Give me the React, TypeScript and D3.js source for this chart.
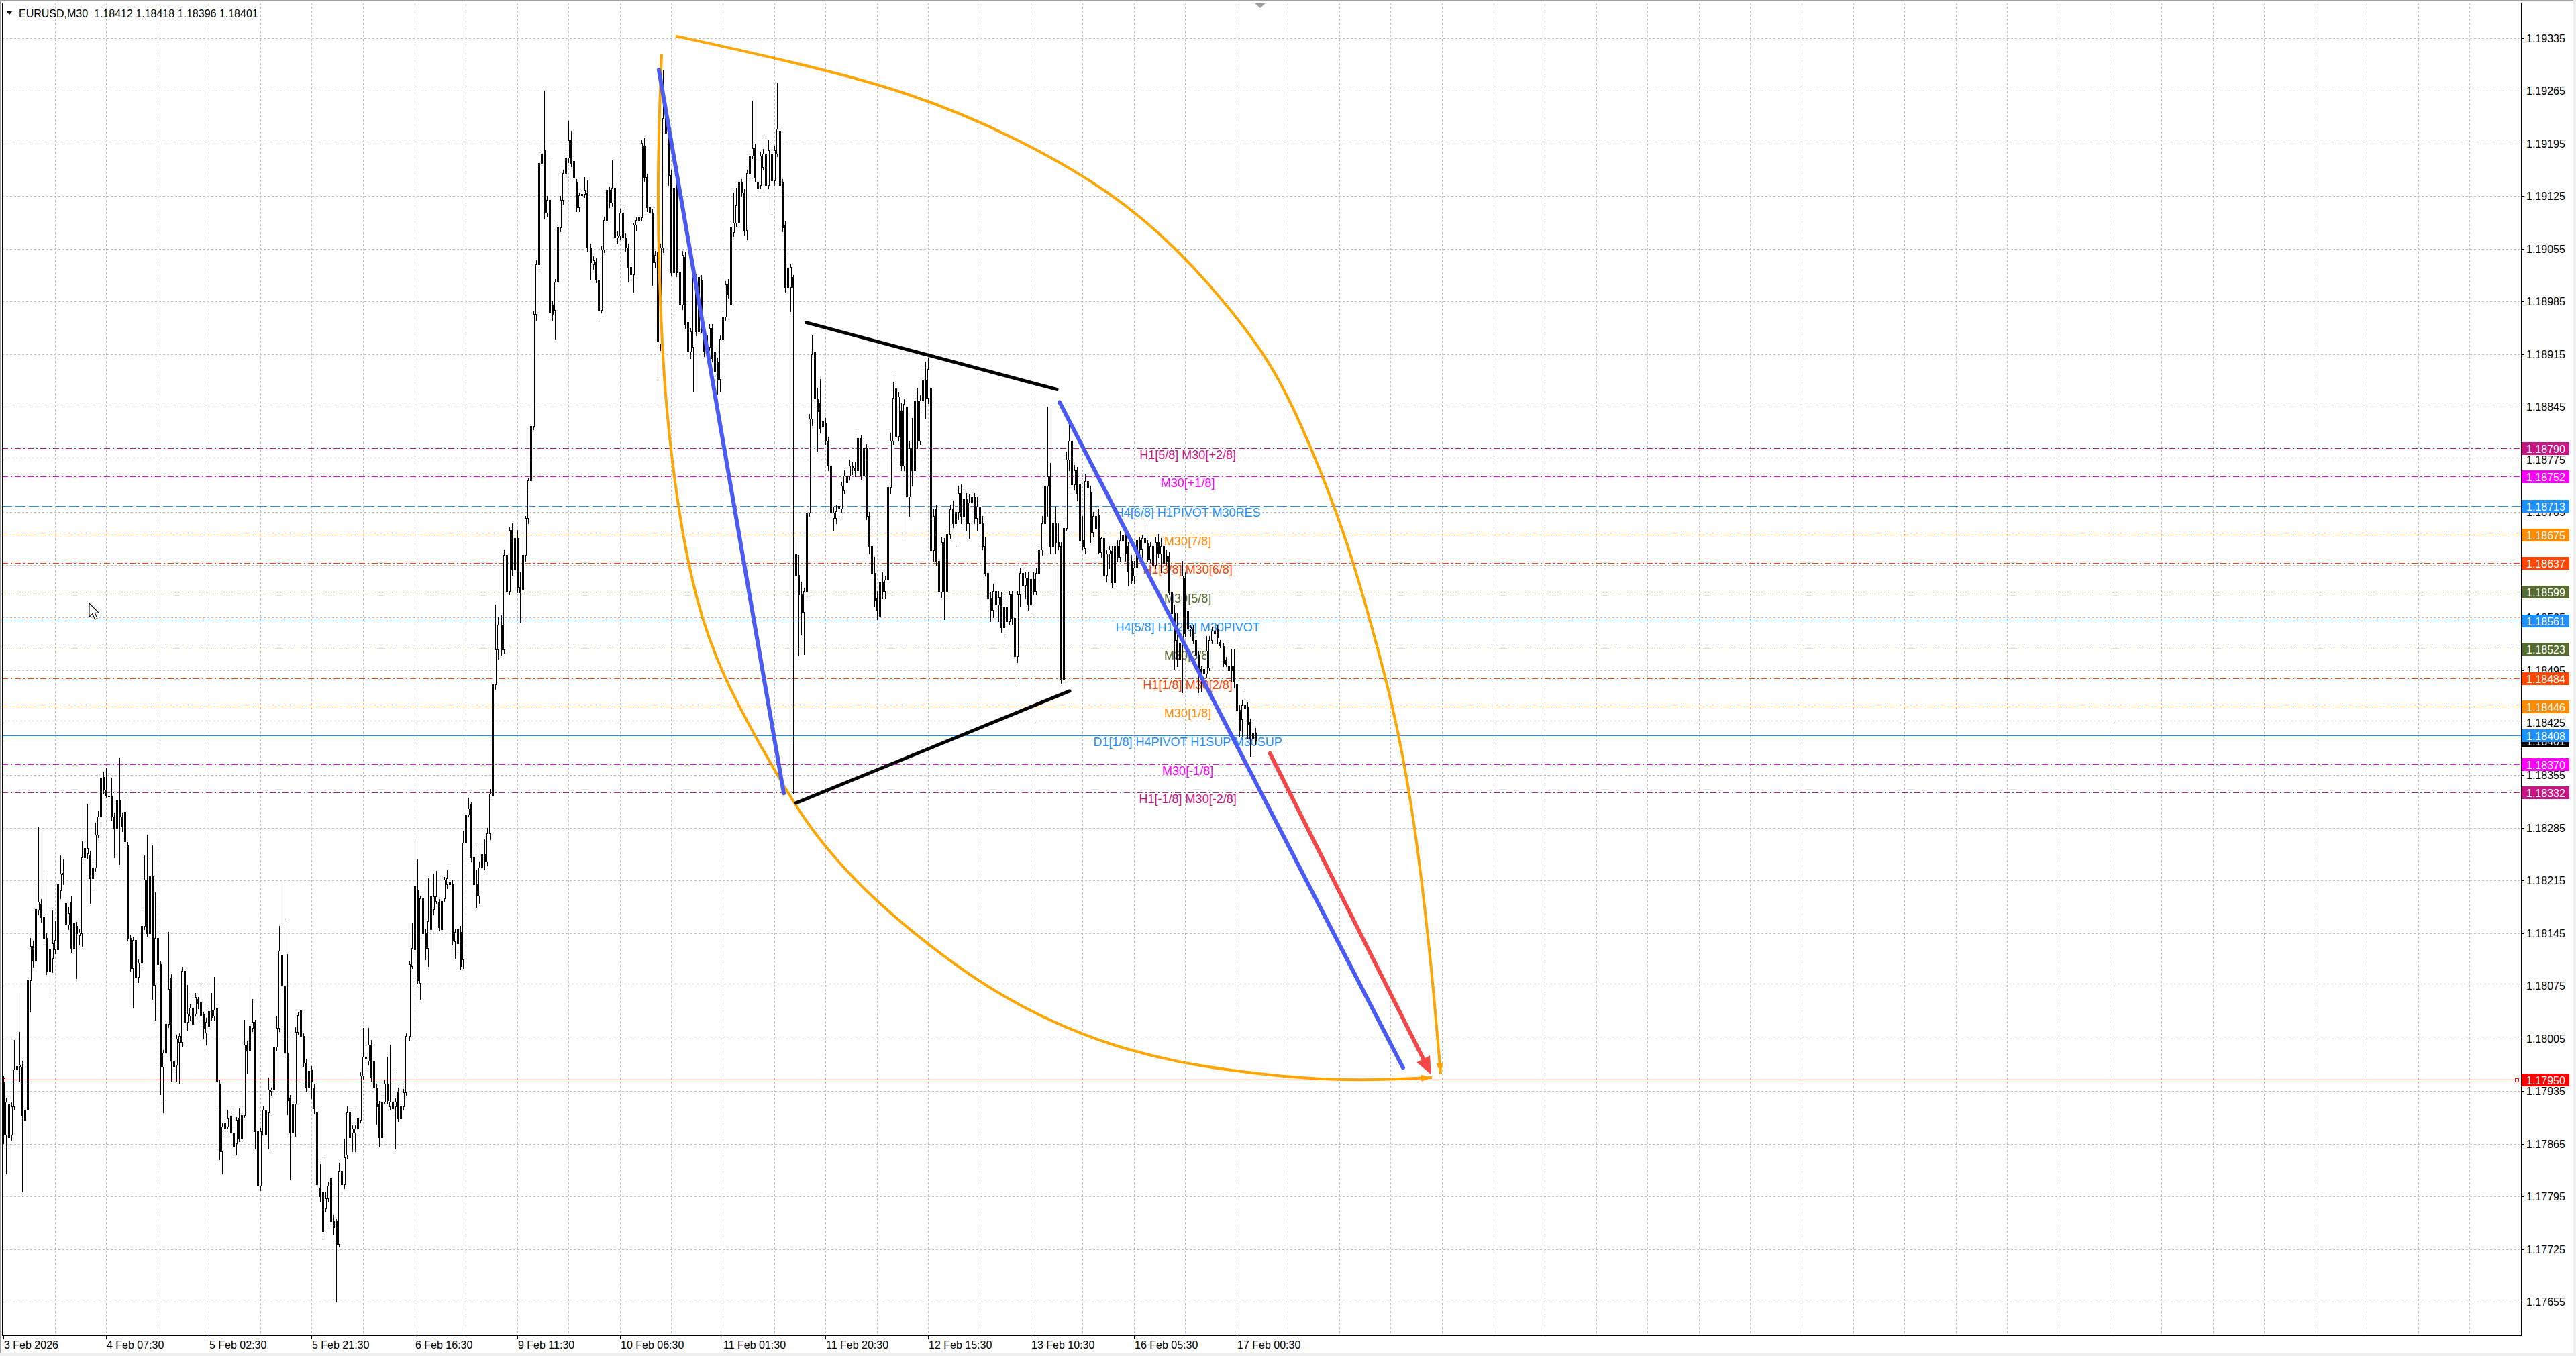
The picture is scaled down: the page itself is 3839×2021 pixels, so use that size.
import { useEffect, useRef } from 'react';
import * as d3 from 'd3';

type Bar = [number, number, number, number]; // open, high, low, close in points above BASE

const BASE = 1.17;

// EURUSD M30 candles, one array per trading day (3 Feb 12:30 .. 17 Feb 04:00)
const feb03: Bar[] = [
  [948,955,866,877],[877,925,825,921],[918,925,865,874],[877,920,870,915],[915,1003,910,964],[964,1065,950,968],
  [968,1014,948,970],[967,975,801,902],[896,915,890,910],[910,1095,860,1082],[1082,1139,1040,1128],[1128,1135,1100,1109],
  [1109,1213,1105,1177],[1176,1287,1170,1187],[1183,1190,1160,1166],[1166,1226,1135,1139],[1139,1145,1090,1095],[1123,1125,1063,1095],
  [1112,1175,1093,1131],[1123,1161,1118,1136],[1123,1215,1118,1210],[1202,1248,1191,1224],[1223,1243,1210,1225],
];
const feb04: Bar[] = [
  [1185,1190,1145,1156],[1156,1180,1150,1172],[1187,1194,1120,1125],[1125,1165,1118,1158],[1155,1160,1085,1145],[1142,1150,1130,1146],
  [1145,1267,1128,1246],[1246,1322,1240,1258],[1251,1317,1245,1258],[1248,1255,1185,1218],[1218,1238,1206,1232],[1232,1292,1228,1276],
  [1276,1308,1272,1300],[1300,1358,1293,1352],[1353,1360,1330,1336],[1336,1365,1325,1328],[1328,1335,1320,1327],[1328,1352,1296,1300],
  [1300,1305,1246,1284],[1284,1330,1280,1322],[1322,1379,1237,1300],[1300,1305,1280,1287],[1306,1329,1260,1267],[1262,1266,1135,1139],
  [1139,1143,1095,1098],[1098,1140,1046,1136],[1136,1140,1080,1087],[1087,1110,1080,1106],[1106,1178,1100,1155],[1155,1248,1150,1216],
  [1216,1276,1140,1145],[1145,1245,1140,1221],[1221,1262,1057,1076],[1076,1199,1030,1139],[1139,1145,1100,1104],[1104,1108,931,967],
  [967,990,907,986],[986,1028,923,1024],[1024,1147,1020,1071],[1086,1090,948,975],[975,980,960,967],[970,1010,948,1005],
  [1000,1012,945,1008],[1000,1100,995,1095],[1095,1100,1020,1027],[1027,1076,1016,1038],[1035,1050,1030,1046],[1046,1060,1020,1024],
];
const feb05: Bar[] = [
  [1038,1065,1035,1060],[1057,1060,1045,1052],[1054,1079,1030,1035],[1038,1040,1005,1019],[1013,1032,997,1027],[1022,1045,994,1041],
  [1043,1065,1030,1033],[1035,1087,1030,1043],[1046,1050,912,948],[945,950,844,855],[855,892,825,888],[885,898,880,893],
  [888,910,885,899],[902,910,876,880],[880,885,847,861],[866,900,850,896],[899,912,868,872],[872,915,868,903],
  [903,1030,900,997],[997,1002,959,989],[989,1087,959,1022],[1019,1057,1015,1027],[1027,1030,858,882],[882,885,805,809],
  [809,886,803,882],[877,915,877,910],[910,915,872,877],[907,953,858,937],[935,940,930,937],[937,1035,935,994],
  [994,1035,990,1019],[1019,1155,1015,1122],[1115,1215,1070,1076],[1074,1164,980,986],[986,1117,904,923],[926,930,817,880],
  [880,925,875,918],[918,1020,875,1014],[1014,1040,1010,1036],[1042,1043,1005,1008],[1008,1012,968,973],[973,978,935,940],
  [940,968,935,962],[964,968,925,948],[940,945,905,912],[907,910,805,811],[806,838,788,795],[800,845,740,749],
];
const feb06: Bar[] = [
  [779,800,775,792],[792,815,788,809],[819,823,758,762],[762,770,745,754],[762,765,655,732],[732,840,728,828],
  [828,832,800,811],[811,872,806,847],[850,915,845,907],[907,915,865,874],[880,890,855,885],[880,890,855,885],
  [885,910,880,899],[896,960,893,956],[956,1019,950,981],[978,1000,960,981],[975,1019,970,997],[997,1003,948,953],
  [975,980,935,940],[940,945,891,915],[918,922,861,874],[874,925,870,921],[921,950,918,945],[945,981,918,923],
  [915,997,910,921],[921,962,905,912],[915,925,858,921],[934,940,895,899],[915,920,888,899],[915,938,910,933],
  [933,1012,930,1008],[1008,1108,1003,1104],[1101,1158,1098,1125],[1123,1267,1120,1207],[1202,1243,1078,1082],[1079,1195,1057,1191],
  [1191,1195,1140,1145],[1145,1150,1110,1125],[1125,1218,1101,1161],[1150,1200,1123,1194],[1177,1224,1170,1194],[1188,1228,1185,1194],
  [1186,1190,1148,1153],[1150,1192,1142,1188],[1191,1220,1188,1216],[1210,1229,1205,1218],[1213,1232,1205,1210],[1210,1215,1130,1136],
];
const feb09: Bar[] = [
  [1134,1150,1112,1147],[1131,1155,1117,1150],[1147,1155,1097,1101],[1110,1281,1098,1265],[1265,1333,1260,1303],[1303,1325,1300,1311],
  [1317,1320,1240,1246],[1246,1260,1200,1210],[1210,1230,1180,1195],[1195,1240,1185,1232],[1232,1262,1220,1250],[1250,1270,1230,1240],
  [1240,1285,1235,1278],[1278,1337,1270,1330],[1328,1522,1320,1476],[1476,1582,1470,1522],[1522,1565,1510,1555],[1555,1568,1515,1522],
  [1522,1655,1518,1648],[1648,1665,1580,1600],[1600,1685,1595,1681],[1681,1690,1620,1628],[1628,1684,1620,1670],[1670,1681,1598,1605],
  [1605,1625,1559,1598],[1602,1650,1555,1648],[1648,1700,1640,1697],[1697,1750,1690,1747],[1747,1822,1734,1819],[1819,1972,1815,1968],
  [1968,2040,1960,2034],[2034,2186,2028,2169],[2169,2190,2160,2182],[2186,2265,2095,2103],[2103,2125,2098,2120],[2120,2176,1965,1971],
  [1981,1985,1960,1968],[1974,2015,1935,2011],[2011,2088,2005,2083],[2083,2125,2078,2120],[2120,2160,2115,2156],[2156,2180,2150,2176],
  [2176,2225,2170,2199],[2199,2212,2165,2169],[2172,2178,2145,2150],[2143,2148,2105,2110],[2110,2130,2105,2126],[2126,2132,2118,2128],
];
const feb10: Bar[] = [
  [2128,2150,2124,2133],[2130,2146,2052,2057],[2057,2062,2014,2037],[2034,2045,2028,2040],[2037,2042,2010,2014],[2014,2018,1965,1974],
  [1974,2058,1970,2054],[2054,2098,2050,2093],[2093,2143,2088,2133],[2133,2138,2110,2116],[2116,2173,2112,2136],[2136,2140,2065,2070],
  [2070,2078,2062,2073],[2073,2108,2068,2103],[2103,2108,2066,2070],[2070,2075,2052,2057],[2057,2062,2011,2031],[2031,2035,2015,2021],
  [2021,2090,1998,2087],[2087,2098,2080,2093],[2093,2150,2088,2097],[2097,2200,2092,2196],[2192,2202,2145,2150],[2150,2155,2105,2110],
  [2110,2115,2098,2103],[2103,2108,2007,2037],[2037,2052,2030,2047],[2050,2065,1882,1932],[1929,2062,1920,2057],[2057,2293,2050,2229],
  [2229,2235,2195,2209],[2209,2215,2140,2153],[2153,2160,2020,2024],[2024,2140,1968,2136],[2136,2142,2018,2024],[2024,2030,1975,1981],
  [1981,2052,1975,2047],[2044,2050,1950,1955],[1958,1962,1912,1918],[1918,1950,1909,1945],[1925,2022,1866,2017],[2017,2022,1940,1945],
  [1945,2022,1940,2017],[2014,2020,1944,1948],[1948,1952,1912,1918],[1940,1962,1920,1925],[1925,1955,1920,1950],[1950,1955,1905,1909],
];
const feb11: Bar[] = [
  [1918,1925,1888,1892],[1905,1910,1862,1882],[1882,1940,1866,1935],[1935,1970,1930,1965],[1965,2012,1960,2008],[2008,2015,1990,1995],
  [1981,2088,1976,2083],[2077,2130,2072,2090],[2090,2136,2085,2113],[2090,2148,2085,2143],[2143,2148,2125,2130],[2130,2135,2074,2080],
  [2080,2160,2067,2156],[2156,2183,2150,2179],[2179,2252,2175,2189],[2189,2195,2145,2150],[2143,2148,2130,2136],[2140,2184,2135,2179],
  [2164,2188,2160,2182],[2182,2202,2135,2140],[2140,2199,2135,2186],[2182,2188,2103,2146],[2146,2192,2140,2186],[2182,2275,2178,2215],
  [2212,2218,2135,2140],[2143,2148,2078,2083],[2087,2092,1998,2004],[2030,2047,2000,2004],[2004,2035,1972,2031],[2017,2020,1331,2004],
  [1650,1668,1522,1621],[1621,1648,1514,1595],[1595,1612,1542,1572],[1572,1604,1516,1600],[1600,1712,1590,1704],[1704,1835,1700,1829],
  [1829,1940,1820,1915],[1918,1938,1850,1856],[1856,1870,1786,1839],[1850,1882,1810,1816],[1826,1832,1812,1819],[1823,1830,1795,1800],
  [1800,1805,1760,1767],[1767,1772,1695,1704],[1697,1712,1680,1704],[1697,1715,1690,1706],[1710,1720,1700,1713],[1710,1745,1705,1740],
];
const feb12: Bar[] = [
  [1734,1760,1730,1753],[1744,1758,1735,1753],[1753,1775,1748,1767],[1767,1772,1755,1764],[1764,1772,1752,1760],[1760,1810,1755,1803],
  [1803,1808,1748,1753],[1753,1800,1750,1790],[1790,1795,1695,1700],[1700,1705,1650,1660],[1660,1680,1620,1624],[1624,1645,1580,1587],
  [1590,1600,1562,1575],[1566,1615,1555,1611],[1611,1625,1590,1600],[1600,1620,1590,1615],[1615,1745,1610,1738],[1738,1810,1730,1800],
  [1800,1878,1795,1857],[1869,1890,1800,1806],[1806,1865,1800,1859],[1840,1850,1760,1767],[1767,1855,1760,1849],[1845,1850,1669,1726],
  [1726,1800,1700,1790],[1790,1830,1740,1760],[1760,1860,1755,1852],[1852,1870,1790,1800],[1800,1860,1795,1853],[1853,1900,1840,1880],
  [1880,1905,1830,1857],[1857,1910,1850,1895],[1870,1905,1650,1654],[1654,1710,1640,1700],[1709,1715,1635,1640],[1640,1652,1595,1599],
  [1599,1672,1592,1665],[1665,1670,1562,1599],[1599,1680,1590,1676],[1676,1715,1670,1709],[1709,1720,1685,1690],[1690,1712,1660,1705],
  [1705,1740,1695,1730],[1730,1742,1690,1700],[1700,1735,1685,1722],[1722,1730,1680,1690],[1690,1728,1670,1718],[1718,1735,1700,1725],
];
const feb13: Bar[] = [
  [1725,1730,1690,1697],[1697,1725,1680,1712],[1712,1720,1680,1690],[1690,1700,1655,1660],[1660,1672,1620,1624],[1624,1640,1585,1590],
  [1590,1598,1560,1575],[1575,1610,1565,1600],[1600,1615,1575,1582],[1582,1600,1560,1592],[1592,1598,1545,1552],[1552,1585,1540,1578],
  [1578,1590,1550,1560],[1560,1600,1555,1595],[1595,1600,1555,1564],[1564,1570,1474,1513],[1513,1600,1505,1595],[1595,1630,1580,1624],
  [1624,1632,1600,1608],[1608,1625,1590,1618],[1618,1625,1575,1582],[1582,1622,1570,1616],[1616,1625,1595,1600],[1600,1630,1595,1624],
  [1624,1660,1612,1655],[1655,1700,1648,1690],[1690,1750,1680,1740],[1740,1845,1700,1752],[1752,1770,1650,1660],[1660,1700,1600,1690],
  [1690,1712,1650,1665],[1665,1690,1655,1660],[1660,1665,1478,1482],[1482,1700,1476,1684],[1684,1785,1680,1775],[1775,1830,1760,1800],
  [1800,1815,1735,1742],[1742,1768,1735,1760],[1760,1765,1720,1730],[1742,1750,1665,1668],[1668,1700,1655,1660],[1657,1755,1650,1746],
  [1746,1752,1728,1738],[1731,1740,1665,1678],[1678,1705,1672,1700],[1700,1705,1680,1684],[1702,1710,1650,1652],[1652,1672,1645,1670],
];
const feb16: Bar[] = [
  [1670,1675,1620,1621],[1621,1655,1612,1650],[1650,1660,1630,1655],[1653,1660,1605,1611],[1611,1665,1608,1660],[1660,1668,1640,1645],
  [1645,1680,1640,1668],[1668,1690,1650,1675],[1675,1682,1640,1650],[1660,1665,1607,1627],[1640,1648,1610,1614],[1620,1640,1610,1631],
  [1631,1670,1628,1668],[1668,1672,1650,1656],[1656,1675,1645,1670],[1670,1690,1660,1664],[1664,1668,1640,1643],[1643,1665,1638,1660],
  [1660,1668,1630,1635],[1635,1672,1630,1665],[1665,1676,1645,1650],[1650,1670,1625,1660],[1660,1678,1630,1637],[1647,1655,1635,1640],
  [1646,1652,1595,1598],[1598,1620,1560,1570],[1570,1582,1496,1535],[1535,1570,1500,1510],[1510,1545,1500,1530],[1530,1640,1465,1620],
  [1617,1625,1540,1544],[1573,1580,1515,1550],[1550,1555,1540,1552],[1550,1555,1530,1535],[1535,1540,1505,1515],[1515,1520,1465,1496],
  [1496,1500,1466,1490],[1496,1500,1485,1490],[1490,1540,1485,1520],[1498,1540,1495,1535],[1535,1553,1530,1547],[1544,1550,1535,1547],
  [1550,1555,1530,1538],[1532,1535,1525,1528],[1527,1530,1500,1504],[1508,1512,1500,1503],[1501,1532,1493,1495],[1501,1523,1480,1495],
];
const feb17: Bar[] = [
  [1501,1523,1471,1480],[1476,1480,1440,1441],[1442,1448,1407,1414],[1429,1455,1407,1448],[1448,1470,1413,1445],[1446,1452,1404,1423],
  [1426,1430,1380,1404],[1404,1423,1382,1412],[1412,1418,1396,1401],
];
const days = [feb03, feb04, feb05, feb06, feb09, feb10, feb11, feb12, feb13, feb16, feb17];

// time axis labels, one every 38 bars
const timeLabels = [
  '3 Feb 2026', '4 Feb 07:30', '5 Feb 02:30', '5 Feb 21:30', '6 Feb 16:30', '9 Feb 11:30', '10 Feb 06:30',
  '11 Feb 01:30', '11 Feb 20:30', '12 Feb 15:30', '13 Feb 10:30', '16 Feb 05:30', '17 Feb 00:30',
];

// price axis labels
const priceTicks = [
  1.17655, 1.17725, 1.17795, 1.17865, 1.17935, 1.18005, 1.18075, 1.18145, 1.18215, 1.18285, 1.18355, 1.18425, 1.18495,
  1.18565, 1.18635, 1.18705, 1.18775, 1.18845, 1.18915, 1.18985, 1.19055, 1.19125, 1.19195, 1.19265, 1.19335,
];

// murrey / pivot levels
const levelPrices = [1.18790, 1.18752, 1.18713, 1.18675, 1.18637, 1.18599, 1.18561, 1.18523, 1.18484, 1.18446, 1.18408, 1.18370, 1.18332];
const levelNames = [
  'H1[5/8] M30[+2/8]', 'M30[+1/8]', 'H4[6/8] H1PIVOT M30RES', 'M30[7/8]', 'H1[3/8] M30[6/8]', 'M30[5/8]',
  'H4[5/8] H1[2/8] M30PIVOT', 'M30[3/8]', 'H1[1/8] M30[2/8]', 'M30[1/8]', 'D1[1/8] H4PIVOT H1SUP M30SUP',
  'M30[-1/8]', 'H1[-1/8] M30[-2/8]',
];
const targetPrice = 1.17950;

// drawn objects, as [bar index, price]
const blueLines: [number, number][][] = [
  [[242.4, 1.19293], [288.6, 1.18331]],
  [[390.6, 1.18851], [517.6, 1.17966]],
];
const blackLines: [number, number][][] = [
  [[296.9, 1.18957], [389.6, 1.18868]],
  [[293.1, 1.18318], [394.3, 1.18467]],
];
const redArrow: [number, number][] = [[468.4, 1.18384], [528.0, 1.17957]];
const outerArc: [number, number][] = [
  [248.6, 1.19338], [289.1, 1.19306], [334.5, 1.19265], [376.2, 1.19201], [410.4, 1.19129], [433.3, 1.19058],
  [452.1, 1.18983], [467.5, 1.18910], [478.9, 1.18833], [496.3, 1.18677], [505.7, 1.18557], [513.9, 1.18449],
  [521.1, 1.18313], [525.8, 1.18176], [528.8, 1.18073], [531.5, 1.17958],
];
const innerArc: [number, number][] = [
  [243.4, 1.19314], [241.9, 1.19163], [242.4, 1.19026], [243.7, 1.18925], [244.9, 1.18852], [248.9, 1.18720],
  [255.8, 1.18588], [265.5, 1.18490], [280.4, 1.18391], [289.1, 1.18338], [299.0, 1.18280], [320.6, 1.18190],
  [363.3, 1.18069], [395.8, 1.18014], [414.6, 1.17991], [433.7, 1.17974], [452.9, 1.17963], [471.7, 1.17955],
  [490.8, 1.17950], [509.7, 1.17950], [528.3, 1.17953],
];

// styles
const levelColors = ['#C71585', '#FF00FF', '#1E90FF', '#FF8C00', '#FF4500', '#556B2F', '#1E90FF', '#556B2F', '#FF4500', '#FF8C00', '#1E90FF', '#FF00FF', '#C71585'];
const levelDash = ['9,4,2,4', '9,4,2,4', '15,5', '9,4,2,4', '9,4,2,4', '9,4,2,4', '15,5', '9,4,2,4', '9,4,2,4', '9,4,2,4', null, '9,4,2,4', '9,4,2,4'];

const W = 3839;
const H = 2021;
const FONT = "'Liberation Sans', Arial, sans-serif";

export default function App() {
  const svgRef = useRef<SVGSVGElement>(null);

  useEffect(() => {
    if (!svgRef.current) return;
    const svg = d3.select(svgRef.current);
    svg.selectAll('*').remove();

    const L = 3, T = 4, R = 3757, B = 1990;
    const bars = days.flat();
    const P = (v: number) => BASE + v / 1e5;

    const x = d3.scaleLinear().domain([0, 1]).range([5, 9.03]);
    const y = d3.scaleLinear().domain([1.176104, 1.193823]).range([B, T]);
    const px = (i: number) => Math.round(x(i));
    const py = (p: number) => Math.round(y(p));

    svg.append('rect').attr('width', W).attr('height', H).attr('fill', '#ffffff');
    svg.append('rect').attr('x', 0).attr('y', 2016).attr('width', W).attr('height', 5).attr('fill', '#f0f0f0');
    svg.append('rect').attr('x', 3835).attr('y', 0).attr('width', 4).attr('height', H).attr('fill', '#f0f0f0');
    svg.append('line').attr('x1', 0).attr('x2', 3835).attr('y1', 0.5).attr('y2', 0.5).attr('stroke', '#a0a0a0');
    svg.append('line').attr('x1', 0.5).attr('x2', 0.5).attr('y1', 0).attr('y2', 2016).attr('stroke', '#a0a0a0');

    svg.append('defs').append('clipPath').attr('id', 'plot')
      .append('rect').attr('x', L).attr('y', T).attr('width', R - L).attr('height', B - T);
    const plot = svg.append('g').attr('clip-path', 'url(#plot)');

    // grid
    const grid = plot.append('g')
      .attr('stroke', '#c0c0c0')
      .attr('stroke-dasharray', '3,3')
      .attr('shape-rendering', 'crispEdges');
    priceTicks.forEach(p => {
      grid.append('line').attr('x1', L).attr('x2', R).attr('y1', py(p) + 0.5).attr('y2', py(p) + 0.5);
    });
    for (let i = 19; x(i) < R; i += 19) {
      grid.append('line').attr('x1', px(i) + 0.5).attr('x2', px(i) + 0.5).attr('y1', T).attr('y2', B);
    }

    // levels
    const lv = plot.append('g').attr('shape-rendering', 'crispEdges');
    levelPrices.forEach((p, k) => {
      const ln = lv.append('line')
        .attr('x1', L).attr('x2', R)
        .attr('y1', py(p) + 0.5).attr('y2', py(p) + 0.5)
        .attr('stroke', levelColors[k]).attr('stroke-width', 1);
      if (levelDash[k]) ln.attr('stroke-dasharray', levelDash[k] as string);
    });
    const last = bars[bars.length - 1];
    lv.append('line').attr('x1', L).attr('x2', R)
      .attr('y1', py(P(last[3])) + 0.5).attr('y2', py(P(last[3])) + 0.5)
      .attr('stroke', '#c0c0c0');
    lv.append('line').attr('x1', 5).attr('x2', 3753)
      .attr('y1', py(targetPrice) + 0.5).attr('y2', py(targetPrice) + 0.5)
      .attr('stroke', '#ff0000');
    [5, 3751].forEach(sx => {
      lv.append('rect').attr('x', sx - 2.5).attr('y', py(targetPrice) - 2)
        .attr('width', 5).attr('height', 5).attr('fill', '#fff').attr('stroke', '#ff0000');
    });

    const labelX = x(438);
    levelPrices.forEach((p, k) => {
      plot.append('text')
        .attr('x', labelX).attr('y', py(p) + 16)
        .attr('text-anchor', 'middle')
        .attr('font-family', FONT).attr('font-size', 18)
        .attr('fill', levelColors[k])
        .text(levelNames[k]);
    });

    // candles
    const cg = plot.append('g').attr('shape-rendering', 'crispEdges');
    bars.forEach((b, i) => {
      const [o, h, l, c] = b;
      const hi = Math.max(h, o, c);
      const lo = Math.min(l, o, c);
      const cx = px(i);
      cg.append('line')
        .attr('x1', cx + 0.5).attr('x2', cx + 0.5)
        .attr('y1', py(P(hi))).attr('y2', py(P(lo)) + 1)
        .attr('stroke', '#000');
      const yo = py(P(o));
      const yc = py(P(c));
      const top = Math.min(yo, yc);
      const hgt = Math.abs(yo - yc);
      if (hgt === 0) {
        cg.append('line').attr('x1', cx - 1).attr('x2', cx + 2)
          .attr('y1', top + 0.5).attr('y2', top + 0.5).attr('stroke', '#000');
      } else {
        cg.append('rect')
          .attr('x', cx - 0.5).attr('y', top + 0.5)
          .attr('width', 2).attr('height', hgt)
          .attr('fill', c >= o ? '#ffffff' : '#000000')
          .attr('stroke', '#000').attr('stroke-width', 1);
      }
    });

    // drawn objects
    const obj = plot.append('g');
    const pt = (d: [number, number]): [number, number] => [x(d[0]), y(d[1])];
    const head = (tip: [number, number], from: [number, number], len: number, half: number, color: string) => {
      const dx = tip[0] - from[0];
      const dy = tip[1] - from[1];
      const d = Math.hypot(dx, dy);
      const ux = dx / d, uy = dy / d;
      const bx = tip[0] - ux * len, by = tip[1] - uy * len;
      obj.append('polygon')
        .attr('points', `${tip[0]},${tip[1]} ${bx - uy * half},${by + ux * half} ${bx + uy * half},${by - ux * half}`)
        .attr('fill', color);
    };

    const curve = d3.line<[number, number]>()
      .x(d => x(d[0])).y(d => y(d[1]))
      .curve(d3.curveBasis);
    [outerArc, innerArc].forEach(arc => {
      obj.append('path').attr('d', curve(arc) as string)
        .attr('fill', 'none').attr('stroke', '#ffa500').attr('stroke-width', 4);
      const n = arc.length;
      head(pt(arc[n - 1]), pt(arc[n - 2]), 16, 5, '#ffa500');
    });

    blackLines.forEach(seg => {
      obj.append('line')
        .attr('x1', x(seg[0][0])).attr('y1', y(seg[0][1]))
        .attr('x2', x(seg[1][0])).attr('y2', y(seg[1][1]))
        .attr('stroke', '#000').attr('stroke-width', 5).attr('stroke-linecap', 'round');
    });
    blueLines.forEach(seg => {
      obj.append('line')
        .attr('x1', x(seg[0][0])).attr('y1', y(seg[0][1]))
        .attr('x2', x(seg[1][0])).attr('y2', y(seg[1][1]))
        .attr('stroke', '#4a5af5').attr('stroke-width', 6).attr('stroke-linecap', 'round');
    });
    {
      const a = pt(redArrow[0]);
      const b = pt(redArrow[1]);
      const d = Math.hypot(b[0] - a[0], b[1] - a[1]);
      const ex = b[0] - ((b[0] - a[0]) / d) * 18;
      const ey = b[1] - ((b[1] - a[1]) / d) * 18;
      obj.append('line')
        .attr('x1', a[0]).attr('y1', a[1]).attr('x2', ex).attr('y2', ey)
        .attr('stroke', '#f44848').attr('stroke-width', 6).attr('stroke-linecap', 'round');
      head(b, a, 26, 11, '#f44848');
    }

    // mouse pointer
    plot.append('path')
      .attr('d', 'M0,0 L0,17 L4,13 L7,20 L10,19 L7,12 L12,12 Z')
      .attr('transform', 'translate(133,899) scale(1.2)')
      .attr('fill', '#fff').attr('stroke', '#000').attr('stroke-width', 0.9);

    // frame
    svg.append('rect')
      .attr('x', L + 0.5).attr('y', T + 0.5)
      .attr('width', R - L).attr('height', B - T)
      .attr('fill', 'none').attr('stroke', '#000').attr('shape-rendering', 'crispEdges');

    // shift marker
    svg.append('polygon').attr('points', '1870,5 1886,5 1878,12').attr('fill', '#a0a0a0');

    // price axis
    const ax = svg.append('g').attr('font-family', FONT).attr('font-size', 16);
    priceTicks.forEach(p => {
      ax.append('line').attr('x1', R).attr('x2', R + 5)
        .attr('y1', py(p) + 0.5).attr('y2', py(p) + 0.5)
        .attr('stroke', '#000').attr('shape-rendering', 'crispEdges');
      ax.append('text').attr('x', R + 8).attr('y', py(p)).attr('dy', '0.36em')
        .attr('fill', '#000').text(p.toFixed(5));
    });
    const box = (p: number, color: string) => {
      ax.append('rect').attr('x', R + 1).attr('y', py(p) - 9)
        .attr('width', 71).attr('height', 19).attr('fill', color);
      ax.append('text').attr('x', R + 8).attr('y', py(p) + 1).attr('dy', '0.36em')
        .attr('fill', '#fff').text(p.toFixed(5));
    };
    box(P(last[3]), '#000000');
    levelPrices.forEach((p, k) => box(p, levelColors[k]));
    box(targetPrice, '#ff0000');

    // time axis
    const tx = svg.append('g').attr('font-family', FONT).attr('font-size', 16);
    timeLabels.forEach((lab, k) => {
      const xx = px(k * 38);
      tx.append('line').attr('x1', xx + 0.5).attr('x2', xx + 0.5).attr('y1', B).attr('y2', B + 6)
        .attr('stroke', '#000').attr('shape-rendering', 'crispEdges');
      tx.append('text').attr('x', xx + 1).attr('y', 2010).attr('fill', '#000').text(lab);
    });

    // header
    svg.append('polygon').attr('points', '9,16 19,16 14,22').attr('fill', '#000');
    svg.append('text')
      .attr('x', 28).attr('y', 26)
      .attr('font-family', FONT).attr('font-size', 16)
      .attr('fill', '#000')
      .style('white-space', 'pre')
      .text(`EURUSD,M30  ${P(last[0]).toFixed(5)} ${P(last[1]).toFixed(5)} ${P(last[2]).toFixed(5)} ${P(last[3]).toFixed(5)}`);
  }, []);

  return (
    <svg
      ref={svgRef}
      width={W}
      height={H}
      style={{ position: 'absolute', left: 0, top: 0, display: 'block' }}
    />
  );
}
